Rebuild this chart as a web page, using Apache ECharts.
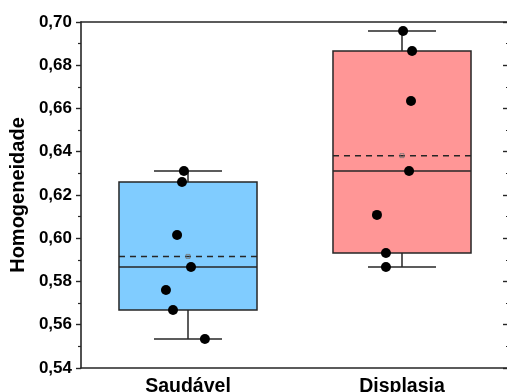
<!DOCTYPE html>
<html>
<head>
<meta charset="utf-8">
<script src="https://cdn.jsdelivr.net/npm/echarts@6/dist/echarts.min.js"></script>
<style>
html,body{margin:0;padding:0;background:#fff;}
#c{width:507px;height:392px;}
</style>
</head>
<body>
<div id="c"></div>
<script>
// ---- data ----
const categories = ['Saudável', 'Displasia'];
const yTicks = [0.54, 0.56, 0.58, 0.60, 0.62, 0.64, 0.66, 0.68, 0.70];

const boxMin    = [0.5534, 0.5867];
const boxQ1     = [0.5668, 0.5932];
const boxMedian = [0.5867, 0.6311];
const boxQ3     = [0.6260, 0.6866];
const boxMax    = [0.6311, 0.6958];
const boxMean   = [0.5916, 0.6382];
const boxColors = ['#80CCFF', '#FF9696'];

const saudavelValues = [0.6311, 0.6260, 0.6015, 0.5867, 0.5761, 0.5668, 0.5534];
const saudavelJitter = [-0.019, -0.028, -0.051, 0.014, -0.103, -0.070, 0.079];
const displasiaValues = [0.6958, 0.6866, 0.6635, 0.6311, 0.6108, 0.5932, 0.5867];
const displasiaJitter = [0.005, 0.047, 0.042, 0.033, -0.117, -0.075, -0.075];

// ---- build ----
const boxData = categories.map((c, i) => [i, boxMin[i], boxQ1[i], boxMedian[i], boxQ3[i], boxMax[i], boxMean[i]]);
const pointData = [];
saudavelValues.forEach((v, k) => pointData.push([0 + saudavelJitter[k], v]));
displasiaValues.forEach((v, k) => pointData.push([1 + displasiaJitter[k], v]));

const lineCol = '#262626';
const font = 'Liberation Sans, Arial, sans-serif';

function renderBox(params, api) {
  const idx = api.value(0);
  const cx = api.coord([idx, 0.6])[0];
  const band = api.size([1, 0])[0];
  const bw = band * 0.645;
  const cw = band * 0.318;
  const y = k => api.coord([idx, api.value(k)])[1];
  const yMin = y(1), yQ1 = y(2), yMed = y(3), yQ3 = y(4), yMax = y(5), yMean = y(6);
  const ls = {stroke: lineCol, lineWidth: 1.5};
  return {
    type: 'group',
    children: [
      {type: 'line', shape: {x1: cx, y1: yQ3, x2: cx, y2: yMax}, style: ls},
      {type: 'line', shape: {x1: cx, y1: yQ1, x2: cx, y2: yMin}, style: ls},
      {type: 'line', shape: {x1: cx - cw / 2, y1: yMax, x2: cx + cw / 2, y2: yMax}, style: ls},
      {type: 'line', shape: {x1: cx - cw / 2, y1: yMin, x2: cx + cw / 2, y2: yMin}, style: ls},
      {type: 'rect', shape: {x: cx - bw / 2, y: yQ3, width: bw, height: yQ1 - yQ3},
        style: {fill: boxColors[idx], stroke: lineCol, lineWidth: 1.5}},
      {type: 'line', shape: {x1: cx - bw / 2, y1: yMed, x2: cx + bw / 2, y2: yMed}, style: ls},
      {type: 'line', shape: {x1: cx - bw / 2, y1: yMean, x2: cx + bw / 2, y2: yMean},
        style: {stroke: lineCol, lineWidth: 1.5, lineDash: [6, 5]}},
      {type: 'rect', shape: {x: cx - 2, y: yMean - 2, width: 4, height: 4},
        style: {fill: 'none', stroke: '#777', lineWidth: 0.8}}
    ]
  };
}

const chart = echarts.init(document.getElementById('c'), null, {renderer: 'canvas'});
chart.setOption({
  animation: false,
  backgroundColor: '#fff',
  grid: {left: 81, top: 22, width: 428, height: 346, containLabel: false, outerBoundsMode: 'none'},
  xAxis: [
    {type: 'category', data: categories, position: 'bottom', boundaryGap: true,
      axisLine: {onZero: false, lineStyle: {color: lineCol, width: 1.6}},
      axisTick: {inside: true, length: 6, alignWithLabel: true, lineStyle: {color: lineCol, width: 1.4}},
      axisLabel: {color: '#000', fontFamily: font, fontWeight: 'bold', fontSize: 19.5, margin: 9},
      splitLine: {show: false}},
    {type: 'category', data: categories, position: 'top',
      axisLine: {onZero: false, lineStyle: {color: lineCol, width: 1.6}},
      axisTick: {show: false}, axisLabel: {show: false}, splitLine: {show: false}},
    {type: 'value', min: -0.5, max: 1.5, show: false, gridIndex: 0}
  ],
  yAxis: [
    {type: 'value', min: 0.54, max: 0.70, interval: 0.02, position: 'left',
      name: 'Homogeneidade', nameLocation: 'middle', nameGap: 52,
      nameTextStyle: {color: '#000', fontFamily: font, fontWeight: 'bold', fontSize: 20},
      axisLine: {show: true, onZero: false, lineStyle: {color: lineCol, width: 1.6}},
      axisTick: {show: true, inside: false, length: 5, lineStyle: {color: lineCol, width: 1.4}},
      minorTick: {show: true, splitNumber: 2, length: 3, lineStyle: {color: lineCol, width: 1.2}},
      axisLabel: {color: '#000', fontFamily: font, fontWeight: 'bold', fontSize: 17, margin: 9,
        formatter: v => { const t = yTicks.find(x => Math.abs(x - v) < 1e-9); return (t !== undefined ? t : v).toFixed(2).replace('.', ','); }},
      splitLine: {show: false}},
    {type: 'value', min: 0.54, max: 0.70, interval: 0.02, position: 'right',
      axisLine: {show: true, onZero: false, lineStyle: {color: lineCol, width: 1.6}},
      axisTick: {show: true, inside: true, length: 6, lineStyle: {color: lineCol, width: 1.4}},
      minorTick: {show: true, splitNumber: 2, length: 3, lineStyle: {color: lineCol, width: 1.2}},
      axisLabel: {show: false}, splitLine: {show: false}}
  ],
  series: [
    {type: 'custom', xAxisIndex: 0, yAxisIndex: 0, renderItem: renderBox, data: boxData, z: 2,
      encode: {x: 0, y: [1, 2, 3, 4, 5, 6]}},
    {type: 'scatter', xAxisIndex: 2, yAxisIndex: 0, data: pointData, symbol: 'circle', symbolSize: 10,
      itemStyle: {color: '#000', opacity: 1}, z: 5}
  ]
});
</script>
</body>
</html>
